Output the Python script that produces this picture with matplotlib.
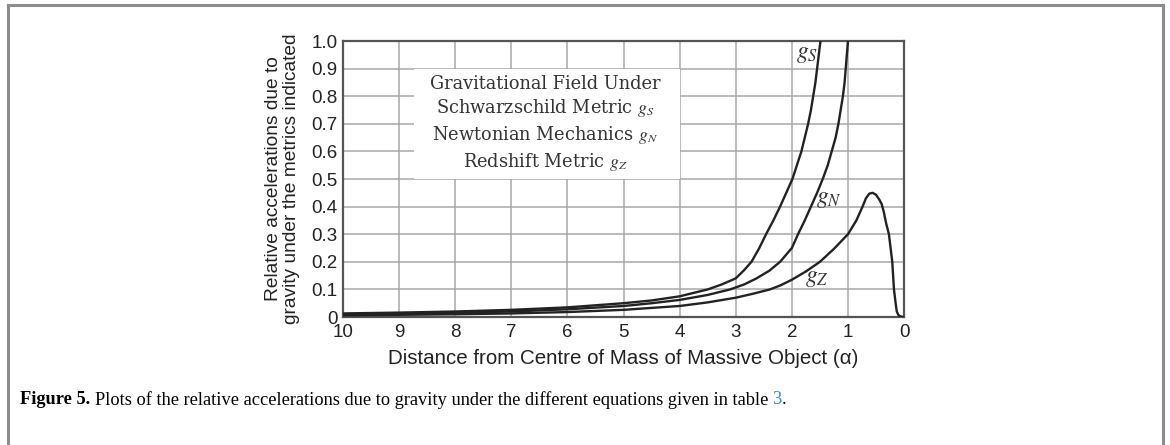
import matplotlib
matplotlib.use("Agg")
import matplotlib.pyplot as plt
from matplotlib.lines import Line2D
from matplotlib.patches import Rectangle

# Data
gs_x = [10, 9, 8, 7, 6, 5, 4.5, 4, 3.5, 3.25, 3.0, 2.85, 2.72, 2.58, 2.46, 2.33, 2.21, 2.1, 1.99, 1.91, 1.83, 1.77, 1.71, 1.66, 1.62, 1.58, 1.55, 1.52, 1.49]
gs_y = [0.013, 0.016, 0.02, 0.026, 0.035, 0.05, 0.06, 0.075, 0.1, 0.118, 0.14, 0.17, 0.2, 0.25, 0.3, 0.35, 0.4, 0.45, 0.5, 0.55, 0.6, 0.65, 0.7, 0.75, 0.8, 0.85, 0.9, 0.95, 1.0]

gn_x = [10, 9, 8, 7, 6, 5, 4.5, 4, 3.5, 3.1, 2.85, 2.63, 2.4, 2.21, 2.0, 1.89, 1.77, 1.66, 1.55, 1.45, 1.36, 1.29, 1.22, 1.17, 1.13, 1.09, 1.06, 1.04, 1.02, 1.0]
gn_y = [0.01, 0.012, 0.016, 0.02, 0.028, 0.04, 0.05, 0.062, 0.08, 0.1, 0.118, 0.14, 0.168, 0.2, 0.25, 0.3, 0.35, 0.4, 0.45, 0.5, 0.55, 0.6, 0.65, 0.7, 0.75, 0.8, 0.85, 0.9, 0.95, 1.0]

gz_x = [10, 9, 8, 7, 6, 5, 4, 3.5, 3.0, 2.7, 2.39, 2.2, 2.0, 1.75, 1.5, 1.25, 1.0, 0.85, 0.74, 0.68, 0.62, 0.56, 0.5, 0.44, 0.4, 0.36, 0.32, 0.27, 0.24, 0.21, 0.18, 0.15, 0.13, 0.1, 0.07, 0.03, 0.0]
gz_y = [0.006, 0.008, 0.01, 0.013, 0.018, 0.026, 0.04, 0.053, 0.07, 0.084, 0.1, 0.115, 0.135, 0.165, 0.2, 0.247, 0.3, 0.35, 0.4, 0.43, 0.447, 0.45, 0.443, 0.425, 0.41, 0.38, 0.34, 0.3, 0.25, 0.2, 0.1, 0.05, 0.02, 0.007, 0.003, 0.0005, 0.0]

x_ticks = [10, 9, 8, 7, 6, 5, 4, 3, 2, 1, 0]
y_ticks = [0, 0.1, 0.2, 0.3, 0.4, 0.5, 0.6, 0.7, 0.8, 0.9, 1.0]
y_ticklabels = ["0", "0.1", "0.2", "0.3", "0.4", "0.5", "0.6", "0.7", "0.8", "0.9", "1.0"]

plt.rcParams['mathtext.fontset'] = 'stix'

fig = plt.figure(figsize=(11.7, 4.45), dpi=100)
ax = fig.add_axes([0.2932, 0.2876, 0.4795, 0.6202])

ax.set_xlim(10, 0)
ax.set_ylim(0, 1.0)
ax.set_xticks(x_ticks)
ax.set_xticklabels([str(t) for t in x_ticks])
ax.set_yticks(y_ticks)
ax.set_yticklabels(y_ticklabels)
ax.grid(True, color='#a8a8a8', lw=1.1)
ax.set_axisbelow(True)
for s in ax.spines.values():
    s.set_color('#555555')
    s.set_linewidth(1.6)
ax.tick_params(length=0, labelsize=13.5, labelcolor='#222222')
ax.tick_params(axis='x', pad=5)
ax.tick_params(axis='y', pad=4)
for lab in ax.get_xticklabels() + ax.get_yticklabels():
    lab.set_family('Liberation Sans')

# white box behind legend text
ax.add_patch(Rectangle((4.0, 0.5), 4.73, 0.4, facecolor='white', edgecolor='none', zorder=1.5))

lc = '#222222'
ax.plot(gs_x, gs_y, color=lc, lw=1.7, zorder=3, solid_joinstyle='round')
ax.plot(gn_x, gn_y, color=lc, lw=1.7, zorder=3, solid_joinstyle='round')
ax.plot(gz_x, gz_y, color=lc, lw=1.7, zorder=3, solid_joinstyle='round')

serif = 'DejaVu Serif'
txt = ("Gravitational Field Under\n"
       "Schwarzschild Metric $g_S$\n"
       "Newtonian Mechanics $g_N$\n"
       "Redshift Metric $g_Z$")
ax.text(6.4, 0.70, txt, ha='center', va='center', fontsize=12.8, family=serif,
        color='#333333', linespacing=1.3, zorder=4)

ax.text(1.73, 0.955, "$g_S$", ha='center', va='center', fontsize=17, color='#333333', zorder=4)
ax.text(1.34, 0.43, "$g_N$", ha='center', va='center', fontsize=17, color='#333333', zorder=4)
ax.text(1.55, 0.145, "$g_Z$", ha='center', va='center', fontsize=17, color='#333333', zorder=4)

ax.set_xlabel("Distance from Centre of Mass of Massive Object (α)", family='Liberation Sans',
              fontsize=14.8, color='#222222', labelpad=6)
ax.set_ylabel("Relative accelerations due to\ngravity under the metrics indicated",
              family='Liberation Sans', fontsize=13.8, color='#222222', labelpad=8, linespacing=1.1)

# caption
cy = 1 - 400 / 445
fs_cap = 13.2
t1 = fig.text(20 / 1170, cy, "Figure 5.", family='Liberation Serif', weight='bold',
              fontsize=fs_cap, va='center', ha='left')
fig.canvas.draw()
r1 = t1.get_window_extent()
t2 = fig.text((r1.x1 + 5) / 1170, cy,
              "Plots of the relative accelerations due to gravity under the different equations given in table",
              family='Liberation Serif', fontsize=fs_cap, va='center', ha='left')
fig.canvas.draw()
r2 = t2.get_window_extent()
t3 = fig.text((r2.x1 + 4) / 1170, cy, "3", family='Liberation Serif', fontsize=fs_cap,
              va='center', ha='left', color='#2a8ac4')
fig.canvas.draw()
r3 = t3.get_window_extent()
fig.text((r3.x1) / 1170, cy, ".", family='Liberation Serif', fontsize=fs_cap,
         va='center', ha='left')

# outer frame (top, left, right)
fc = '#8c8c8c'
fig.add_artist(Line2D([8 / 1170, 1163 / 1170], [1 - 5 / 445, 1 - 5 / 445], color=fc, lw=2.2,
                      transform=fig.transFigure))
fig.add_artist(Line2D([8 / 1170, 8 / 1170], [0, 1 - 5 / 445], color=fc, lw=2.2, transform=fig.transFigure))
fig.add_artist(Line2D([1163 / 1170, 1163 / 1170], [0, 1 - 5 / 445], color=fc, lw=2.2,
                      transform=fig.transFigure))

fig.savefig("out.png", dpi=100)
